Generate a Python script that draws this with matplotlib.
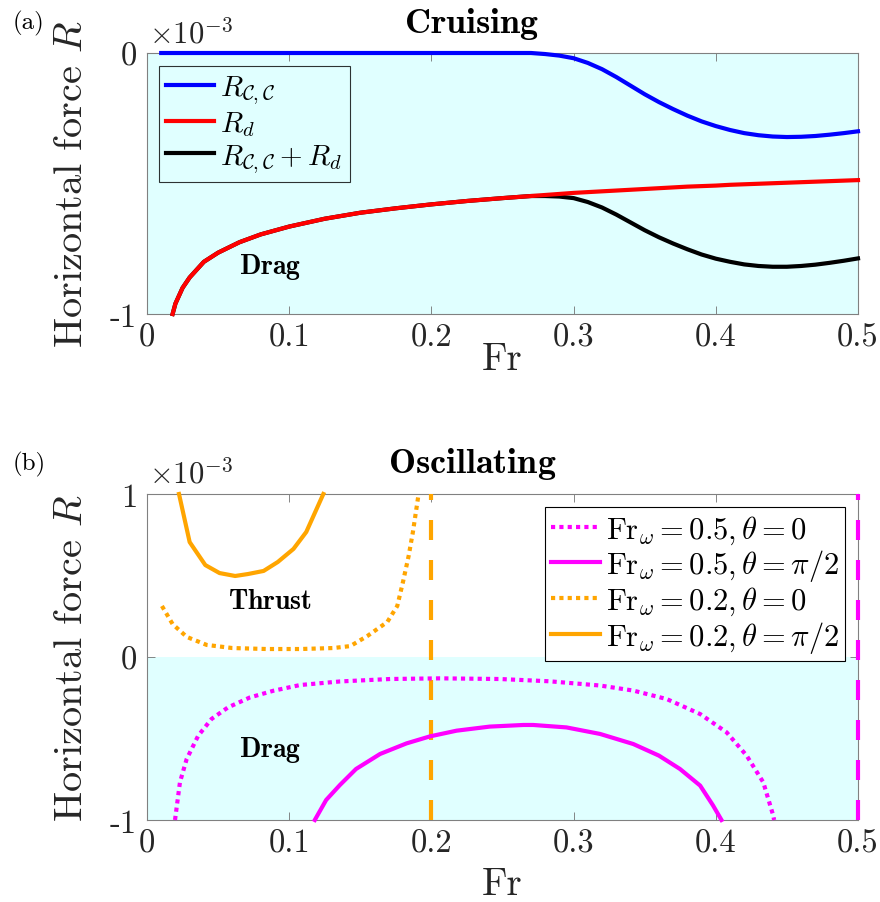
import numpy as np
import matplotlib
matplotlib.use('Agg')
import matplotlib.pyplot as plt

plt.rcParams['mathtext.fontset'] = 'cm'
plt.rcParams['font.family'] = 'serif'
plt.rcParams['font.serif'] = ['cmr10']
plt.rcParams['axes.unicode_minus'] = False
plt.rcParams['axes.formatter.use_mathtext'] = True

# ---- panel (a): cruising, values in units of 1e-3 ----
fr_cc = [0.01, 0.1, 0.2, 0.25, 0.27, 0.28, 0.29, 0.30, 0.31, 0.32, 0.33, 0.34,
         0.35, 0.36, 0.37, 0.38, 0.39, 0.40, 0.41, 0.42, 0.43, 0.44, 0.45,
         0.46, 0.47, 0.48, 0.49, 0.50]
r_cc = [0.0, 0.0, 0.0, 0.0, 0.0, -0.004, -0.01, -0.02, -0.038, -0.062, -0.092,
        -0.125, -0.158, -0.188, -0.215, -0.24, -0.262, -0.28, -0.295, -0.307,
        -0.315, -0.32, -0.322, -0.321, -0.318, -0.313, -0.307, -0.30]

fr_d = [0.018, 0.02, 0.025, 0.03, 0.04, 0.05, 0.065, 0.08, 0.1, 0.125, 0.15,
        0.175, 0.2, 0.225, 0.25, 0.27, 0.28, 0.29, 0.30, 0.31, 0.32, 0.33, 0.34,
        0.35, 0.36, 0.37, 0.38, 0.39, 0.40, 0.41, 0.42, 0.43, 0.44, 0.45, 0.46,
        0.47, 0.48, 0.49, 0.50]
r_d = [-1.0, -0.96, -0.90, -0.86, -0.80, -0.765, -0.725, -0.695, -0.665, -0.635,
       -0.612, -0.595, -0.58, -0.567, -0.556, -0.548, -0.544, -0.54, -0.536,
       -0.533, -0.53, -0.527, -0.524, -0.521, -0.518, -0.515, -0.512, -0.51,
       -0.508, -0.505, -0.503, -0.501, -0.499, -0.497, -0.495, -0.493, -0.491,
       -0.489, -0.487]
r_sum = [-1.0, -0.96, -0.90, -0.86, -0.80, -0.765, -0.725, -0.695, -0.665, -0.635,
         -0.612, -0.595, -0.58, -0.567, -0.556, -0.548, -0.548, -0.55, -0.556,
         -0.571, -0.592, -0.619, -0.649, -0.679, -0.706, -0.73, -0.752, -0.772,
         -0.788, -0.80, -0.81, -0.816, -0.819, -0.819, -0.816, -0.811, -0.804,
         -0.796, -0.787]

# ---- panel (b): oscillating ----
fr_05_0 = [0.0197, 0.0232, 0.0279, 0.036, 0.0454, 0.057, 0.0724, 0.0889, 0.1076,
           0.1357, 0.171, 0.206, 0.248, 0.283, 0.3186, 0.342, 0.3655, 0.389,
           0.4076, 0.4217, 0.4334, 0.4404, 0.441]
r_05_0 = [-1.0, -0.767, -0.626, -0.483, -0.38, -0.309, -0.248, -0.207, -0.172,
          -0.150, -0.135, -0.131, -0.135, -0.149, -0.175, -0.206, -0.258, -0.35,
          -0.462, -0.605, -0.769, -0.973, -1.0]

fr_05_90 = [0.118, 0.126, 0.1357, 0.147, 0.1639, 0.1825, 0.199, 0.2177, 0.241,
            0.2647, 0.2716, 0.295, 0.3186, 0.342, 0.36, 0.3748, 0.389, 0.398, 0.404]
r_05_90 = [-1.0, -0.877, -0.785, -0.687, -0.595, -0.53, -0.487, -0.452, -0.427,
           -0.417, -0.417, -0.432, -0.472, -0.534, -0.605, -0.687, -0.789, -0.91,
           -1.0]

fr_02_0 = [0.0105, 0.018, 0.028, 0.042, 0.060, 0.084, 0.108, 0.131, 0.143, 0.155,
           0.169, 0.176, 0.180, 0.184, 0.187, 0.191]
r_02_0 = [0.313, 0.202, 0.123, 0.074, 0.055, 0.049, 0.049, 0.055, 0.067, 0.129,
          0.215, 0.313, 0.46, 0.62, 0.767, 1.0]

fr_02_90 = [0.0225, 0.030, 0.041, 0.051, 0.062, 0.071, 0.082, 0.092, 0.103, 0.112,
            0.124]
r_02_90 = [1.0, 0.705, 0.564, 0.515, 0.497, 0.509, 0.528, 0.583, 0.663, 0.767, 1.0]

fr_omega = [0.5, 0.2]

xticks = [0, 0.1, 0.2, 0.3, 0.4, 0.5]
xticklabels = ['0', '0.1', '0.2', '0.3', '0.4', '0.5']

magenta = '#ff00ff'
orange = '#ffa500'
cyan = '#e0ffff'
W, H = 880, 903

fig = plt.figure(figsize=(W / 100, H / 100), dpi=100)
ax1 = fig.add_axes([147 / W, 1 - 315 / H, 711 / W, 261 / H])
ax2 = fig.add_axes([147 / W, 1 - 821 / H, 711 / W, 326 / H])

def style(ax):
    ax.set_xlim(0, 0.5)
    ax.set_xticks(xticks)
    ax.set_xticklabels(xticklabels)
    ax.tick_params(direction='in', length=5.5, width=0.6, color='0.45',
                   labelsize=23.5, labelcolor='#262626', top=True, right=True)
    ax.tick_params(axis='x', pad=6)
    ax.tick_params(axis='y', pad=7)
    for s in ax.spines.values():
        s.set_color('0.5')
        s.set_linewidth(0.8)
    ax.set_xlabel('Fr', fontsize=28, color='#262626')
    ax.set_ylabel('Horizontal force $R$', fontsize=29, color='#262626')
    ax.yaxis.set_label_coords(-0.080, 0.5)

# (a)
style(ax1)
ax1.set_ylim(-1, 0)
ax1.set_yticks([-1, 0])
ax1.set_yticklabels(['-1', '0'])
ax1.xaxis.set_label_coords(0.5, -0.105)
ax1.axhspan(-1, 0, color=cyan, zorder=0, lw=0)
l1, = ax1.plot(fr_cc, r_cc, color='#0000ff', lw=3, clip_on=False, zorder=3,
               label=r'$R_{\mathcal{C},\mathcal{C}}$')
l2, = ax1.plot(fr_d, r_d, color='#ff0000', lw=3, clip_on=False, zorder=4,
               label=r'$R_d$')
l3, = ax1.plot(fr_d, r_sum, color='k', lw=3, clip_on=False, zorder=3,
               label=r'$R_{\mathcal{C},\mathcal{C}}+R_d$')
leg1 = ax1.legend(handles=[l1, l2, l3], loc='upper left',
                  bbox_to_anchor=(12 / 711, 1 - 13 / 261), borderaxespad=0,
                  fontsize=21, handlelength=1.65, handletextpad=0.2,
                  labelspacing=0.12, borderpad=0.25, fancybox=False,
                  edgecolor='k', facecolor='none')
leg1.get_frame().set_linewidth(0.8)
ax1.text(0.0865, -0.816, r'$\mathbf{Drag}$', fontsize=20, ha='center', va='center')

# (b)
style(ax2)
ax2.set_ylim(-1, 1)
ax2.set_yticks([-1, 0, 1])
ax2.set_yticklabels(['-1', '0', '1'])
ax2.xaxis.set_label_coords(0.5, -0.142)
ax2.axhspan(-1, 0, color=cyan, zorder=0, lw=0)
ax2.axvline(fr_omega[0], color=magenta, lw=3, dashes=(4.8, 4.8), clip_on=False, zorder=3)
ax2.axvline(fr_omega[1], color=orange, lw=3, dashes=(4.8, 4.8), clip_on=False, zorder=3)
h1, = ax2.plot(fr_05_0, r_05_0, color=magenta, lw=3, dashes=(1, 1),
               dash_capstyle='butt', clip_on=False, zorder=4,
               label=r'$\mathrm{Fr}_\omega=0.5,\theta=0$')
h2, = ax2.plot(fr_05_90, r_05_90, color=magenta, lw=3, clip_on=False, zorder=4,
               label=r'$\mathrm{Fr}_\omega=0.5,\theta=\pi/2$')
h3, = ax2.plot(fr_02_0, r_02_0, color=orange, lw=3, dashes=(1, 1),
               dash_capstyle='butt', clip_on=False, zorder=4,
               label=r'$\mathrm{Fr}_\omega=0.2,\theta=0$')
h4, = ax2.plot(fr_02_90, r_02_90, color=orange, lw=3, clip_on=False, zorder=4,
               label=r'$\mathrm{Fr}_\omega=0.2,\theta=\pi/2$')
leg2 = ax2.legend(handles=[h1, h2, h3, h4], loc='upper right',
                  bbox_to_anchor=(698 / 711, 1 - 13 / 326), borderaxespad=0,
                  fontsize=22, handlelength=1.6, handletextpad=0.2,
                  labelspacing=0.05, borderpad=0.2, fancybox=False,
                  edgecolor='k', facecolor='white', framealpha=1)
leg2.get_frame().set_linewidth(0.8)
leg2.set_zorder(5)
ax2.text(0.0865, 0.344, r'$\mathbf{Thrust}$', fontsize=20, ha='center', va='center')
ax2.text(0.0865, -0.564, r'$\mathbf{Drag}$', fontsize=20, ha='center', va='center')

# titles, panel letters, exponent labels
fig.text(472 / W, 1 - 33 / H, r'$\mathbf{Cruising}$', fontsize=26, ha='center', va='baseline')
fig.text(472 / W, 1 - 473 / H, r'$\mathbf{Oscillating}$', fontsize=26, ha='center', va='baseline')
fig.text(13 / W, 1 - 29 / H, '(a)', fontsize=18, va='baseline')
fig.text(13 / W, 1 - 470 / H, '(b)', fontsize=18, va='baseline')
fig.text(149 / W, 1 - 43 / H, r'$\times 10^{-3}$', fontsize=22, va='baseline', color='#262626')
fig.text(149 / W, 1 - 483 / H, r'$\times 10^{-3}$', fontsize=22, va='baseline', color='#262626')

fig.savefig('out.png', dpi=100)
